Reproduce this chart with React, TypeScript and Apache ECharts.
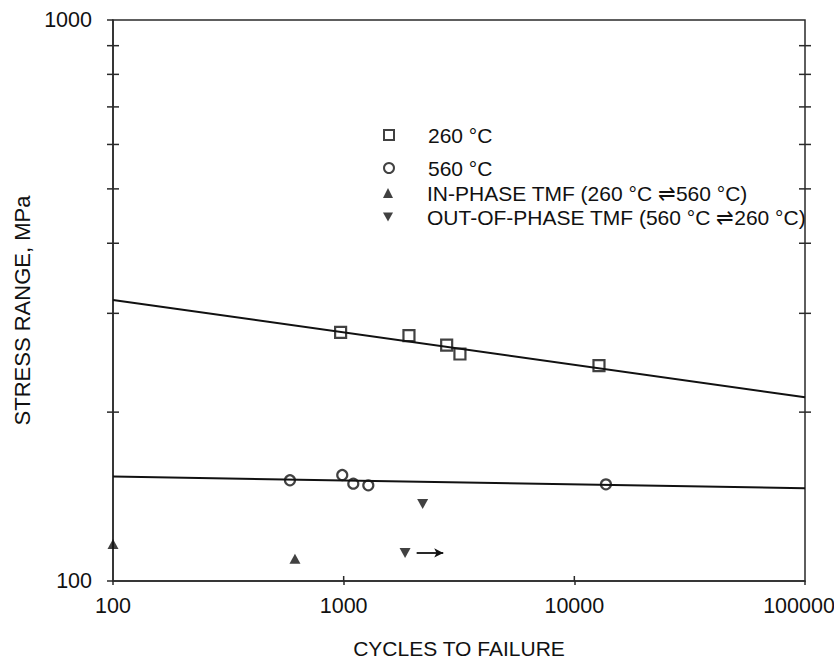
import React, { useEffect, useRef } from "react";
import * as echarts from "echarts";

// ---- data ----
const X_MIN = 100;
const X_MAX = 100000;
const Y_MIN = 100;
const Y_MAX = 1000;

const cycles260 = [970, 1919, 2796, 3192, 12790];
const stress260 = [277.5, 273.7, 263.4, 253.9, 242.0];

const cycles560 = [585, 986, 1101, 1279, 13710];
const stress560 = [151.2, 154.5, 149.1, 148.1, 148.7];

const cyclesInPhase = [100, 615];
const stressInPhase = [116.4, 109.6];

const cyclesOutPhase = [2200, 1846];
const stressOutPhase = [137.2, 112.2];

// run-out arrow (out-of-phase specimen still running)
const runoutFrom = [2072, 112.2];
const runoutTo = [2702, 112.2];

// fitted lines (end points at axis limits)
const fit260 = [[100, 316.9], [100000, 212.5]];
const fit560 = [[100, 153.5], [100000, 146.3]];

const yMinorTicks = [200, 300, 400, 500, 600, 700, 800, 900];
const xInnerTicks = [1000, 10000];

const names = [
  "260 °C",
  "560 °C",
  "IN-PHASE TMF (260 °C ⇌560 °C)",
  "OUT-OF-PHASE TMF (560 °C ⇌260 °C)",
];
const legendRowTop = [124, 157, 182, 206];

const zip = (xs: number[], ys: number[]) => xs.map((x, i) => [x, ys[i]]);

const FONT = "'Liberation Sans', Arial, Helvetica, sans-serif";
const INK = "#111";
const AXIS = "#2a2a2a";

export default function App() {
  const ref = useRef<HTMLDivElement>(null);

  useEffect(() => {
    if (!ref.current) return;
    const chart = echarts.init(ref.current, undefined, { renderer: "svg" });

    const legends = names.map((n, i) => ({
      orient: "horizontal",
      left: 383,
      top: legendRowTop[i],
      padding: 0,
      itemWidth: 10,
      itemHeight: 10,
      selectedMode: false,
      data:
        i === 3
          ? [{ name: n, icon: "path://M0,0 L10,0 L5,9 Z" }]
          : [{ name: n }],
      textStyle: {
        fontFamily: FONT,
        fontSize: 21,
        lineHeight: 22,
        color: INK,
        padding: [0, 0, 0, 29],
      },
    }));

    chart.setOption({
      animation: false,
      textStyle: { fontFamily: FONT },
      grid: {
        left: 113,
        right: 29,
        top: 20,
        bottom: 78,
        show: true,
        borderColor: AXIS,
        borderWidth: 1.5,
        backgroundColor: "transparent",
        containLabel: false,
        outerBoundsMode: "none",
      },
      legend: legends,
      xAxis: {
        type: "log",
        logBase: 10,
        min: X_MIN,
        max: X_MAX,
        name: "CYCLES TO FAILURE",
        nameLocation: "middle",
        nameGap: 57,
        nameTextStyle: { fontFamily: FONT, fontSize: 21, lineHeight: 21, color: INK },
        axisLine: { show: true, lineStyle: { color: AXIS, width: 1.5 } },
        axisTick: { show: true, length: 4, lineStyle: { color: AXIS, width: 1.5 } },
        splitLine: { show: false },
        axisLabel: {
          fontFamily: FONT,
          fontSize: 21.5,
          color: INK,
          margin: 14,
          formatter: (v: number) => {
            const s = String(Math.round(v));
            return Math.round(v) === X_MAX ? `{last|${s}}` : s;
          },
          rich: {
            last: { fontFamily: FONT, fontSize: 21.5, color: INK, padding: [0, 12, 0, 0] },
          },
        },
      },
      yAxis: {
        type: "log",
        logBase: 10,
        min: Y_MIN,
        max: Y_MAX,
        name: "STRESS RANGE, MPa",
        nameLocation: "middle",
        nameGap: 78,
        nameTextStyle: {
          fontFamily: FONT,
          fontSize: 22,
          color: INK,
          padding: [0, 20, 0, 0],
        },
        axisLine: { show: true, lineStyle: { color: AXIS, width: 1.5 } },
        axisTick: { show: true, length: 6, lineStyle: { color: AXIS, width: 1.5 } },
        splitLine: { show: false },
        axisLabel: {
          fontFamily: FONT,
          fontSize: 21.5,
          color: INK,
          margin: 21,
          formatter: (v: number) => String(Math.round(v)),
        },
      },
      series: [
        {
          name: "fit260",
          type: "line",
          data: fit260,
          showSymbol: false,
          silent: true,
          lineStyle: { color: INK, width: 2 },
        },
        {
          name: "fit560",
          type: "line",
          data: fit560,
          showSymbol: false,
          silent: true,
          lineStyle: { color: INK, width: 2 },
        },
        {
          name: names[0],
          type: "scatter",
          symbol: "rect",
          symbolSize: 11,
          data: zip(cycles260, stress260),
          itemStyle: { color: "#fff", borderColor: INK, borderWidth: 2.2 },
        },
        {
          name: names[1],
          type: "scatter",
          symbol: "circle",
          symbolSize: 10,
          data: zip(cycles560, stress560),
          itemStyle: { color: "#fff", borderColor: INK, borderWidth: 2.2 },
        },
        {
          name: names[2],
          type: "scatter",
          symbol: "triangle",
          symbolSize: [11, 10],
          data: zip(cyclesInPhase, stressInPhase),
          itemStyle: { color: INK },
        },
        {
          name: names[3],
          type: "scatter",
          symbol: "triangle",
          symbolRotate: 180,
          symbolSize: [11, 10],
          data: zip(cyclesOutPhase, stressOutPhase),
          itemStyle: { color: INK },
          markLine: {
            silent: true,
            symbol: ["none", "arrow"],
            symbolSize: [7, 9],
            label: { show: false },
            lineStyle: { color: INK, width: 1.8, type: "solid" },
            data: [[{ coord: runoutFrom }, { coord: runoutTo }]],
          },
        },
        {
          name: "yticks",
          type: "custom",
          silent: true,
          data: yMinorTicks.map((v) => [X_MIN, v]),
          renderItem: (_p: any, api: any) => {
            const v = api.value(1);
            const l = api.coord([X_MIN, v]);
            const r = api.coord([X_MAX, v]);
            const st = { stroke: AXIS, lineWidth: 1.5 };
            return {
              type: "group",
              children: [
                { type: "line", shape: { x1: l[0] - 6, y1: l[1], x2: l[0] + 6, y2: l[1] }, style: st },
                { type: "line", shape: { x1: r[0] - 6, y1: r[1], x2: r[0] + 6, y2: r[1] }, style: st },
              ],
            };
          },
        },
        {
          name: "xticks",
          type: "custom",
          silent: true,
          data: xInnerTicks.map((v) => [v, Y_MIN]),
          renderItem: (_p: any, api: any) => {
            const v = api.value(0);
            const b = api.coord([v, Y_MIN]);
            return {
              type: "line",
              shape: { x1: b[0], y1: b[1] - 5, x2: b[0], y2: b[1] },
              style: { stroke: AXIS, lineWidth: 1.5 },
            };
          },
        },
      ],
    });

    return () => chart.dispose();
  }, []);

  return (
    <div
      ref={ref}
      style={{ position: "fixed", left: 0, top: 0, width: 834, height: 659, background: "#fff" }}
    />
  );
}
